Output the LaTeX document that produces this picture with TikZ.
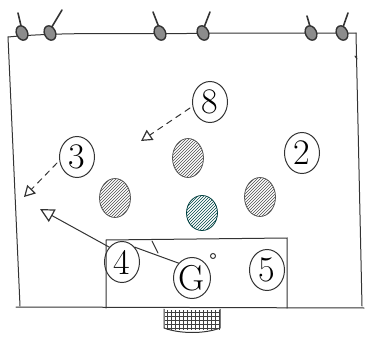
\documentclass[tikz,border=0pt]{standalone}
\usepackage{fontspec}
\usetikzlibrary{positioning,patterns,arrows.meta,shapes.geometric}

\tikzset{
  pen/.style={draw=black!80, line width=1pt, line cap=round},
  player/.style={pen, ellipse, inner sep=0pt, minimum width=35pt, minimum height=41pt,
    font=\fontsize{36}{36}\selectfont},
  defender/.style={ellipse, draw=black!65, line width=0.8pt, minimum width=31pt, minimum height=39pt,
    pattern=north east lines, pattern color=black!70},
  run/.style={pen, dashed, dash pattern=on 6pt off 5pt, -{Triangle[open,length=11pt,width=12pt,line width=1.2pt]}},
  pass/.style={pen, -{Triangle[open,length=14pt,width=14pt,line width=1.2pt]}}
}

\begin{document}
\begin{tikzpicture}[x=1pt,y=-1pt]
\useasboundingbox (0,0) rectangle (365,340);

% Pitch outline
\draw[pen] (8,37) .. controls (70,31) and (150,35) .. (210,33) -- (356,33);
\draw[pen] (8,37) -- (20,306);
\draw[pen] (356,33) -- (362,306);
\draw[pen] (16,307) -- (364,308);
\draw[pen] (355,56) -- (357,59);

% Posts along the top
\foreach \x/\tx/\ty in {22/18/13, 50/62/10, 160/153/12, 203/210/12, 311/307/16, 342/348/13} {
  \draw[pen, line width=1.6pt] (\x,30) -- (\tx,\ty);
  \draw[pen, line width=1.4pt, fill=black!45, rotate around={25:(\x,33)}] (\x,33) ellipse (5.5 and 7.5);
}

% Penalty box
\draw[pen] (106,308) -- (106,240) -- (287,238) -- (287,308);

% Goal with net
\draw[pen] (164,309) -- (164,328) .. controls (180,334) and (205,334) .. (220,328) -- (220,309);
\foreach \gx in {167,171,...,219} { \draw[black!75, line width=0.6pt] (\gx,310) -- (\gx,330); }
\foreach \gy in {312,316,...,328} { \draw[black!75, line width=0.6pt] (165,\gy) -- (219,\gy); }

% Attackers
\node[player] (p8) at (210,102) {8};
\node[player] (p3) at (77,157) {3};
\node[player] (p2) at (302,153) {2};
\node[player] (p4) at (122,262) {4};
\node[player] (pG) at (192,278) {G};
\node[player] (p5) at (267,270) {5};
\draw[pen] (213,256) circle (2.5);

% Defenders
\node[defender] (d1) at (188,158) {};
\node[defender] (d2) at (115,198) {};
\node[defender] (d3) at (260,197) {};
\node[defender, draw=teal!50!black, pattern color=teal!55!black, minimum height=35pt] (d4) at (202,213) {};

% Runs and passes
\coordinate (run3) at (24,197);
\coordinate (run8) at (141,141);
\coordinate (pass4) at (40,209);
\draw[run] (p3.west) ++(-2,6) -- (run3);
\draw[run] (p8.west) ++(-2,6) -- (run8);
\draw[pass] (p4.north west) -- (pass4);
\draw[pen] (pG.north west) -- (p4.north east);
\draw[pen] (152,241) -- (158,253);
\end{tikzpicture}
\end{document}
